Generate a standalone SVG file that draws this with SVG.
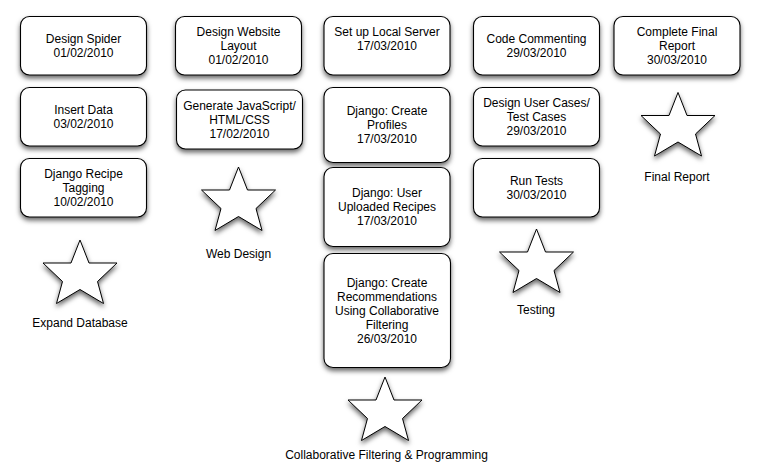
<svg xmlns="http://www.w3.org/2000/svg" xmlns:xlink="http://www.w3.org/1999/xlink" width="760" height="471" viewBox="0 0 760 471">
<style>
.box{fill:#fff;stroke:#000;stroke-width:1.1;filter:url(#sh)}
.star{fill:#fff;stroke:#000;stroke-width:1;stroke-linejoin:miter;filter:url(#sh)}
text{font-family:"Liberation Sans",Arial,sans-serif;font-size:12px;fill:#000;text-anchor:middle}
</style>
<defs>
<filter id="sh" x="-20%" y="-20%" width="140%" height="150%">
<feDropShadow dx="0" dy="3" stdDeviation="2.6" flood-color="#000" flood-opacity="0.6"/>
</filter>
<path id="star" d="M0,0 L9,23 L37,23 L17.5,41.5 L23.5,63.5 L0,49.5 L-23.5,63.5 L-17.5,41.5 L-37,23 L-9,23 Z"/>
</defs>
<rect width="760" height="471" fill="#fff"/>
<g id="connectors"></g>

<g id="design-spider"><rect class="box" x="20.5" y="16.5" width="126" height="58.5" rx="9"/>
<text x="83.5" y="43.3">Design Spider</text><text x="83.5" y="57.3">01/02/2010</text></g>
<g id="insert-data"><rect class="box" x="20.5" y="87.5" width="126" height="58.5" rx="9"/>
<text x="83.5" y="113.8">Insert Data</text><text x="83.5" y="127.8">03/02/2010</text></g>
<g id="django-recipe-tagging"><rect class="box" x="20.5" y="158.5" width="126" height="58.5" rx="9"/>
<text x="83.5" y="177.8">Django Recipe</text><text x="83.5" y="191.8">Tagging</text><text x="83.5" y="205.8">10/02/2010</text></g>

<g id="design-website-layout"><rect class="box" x="175.5" y="16.5" width="126" height="58.5" rx="9"/>
<text x="238.5" y="36">Design Website</text><text x="238.5" y="50">Layout</text><text x="238.5" y="64">01/02/2010</text></g>
<g id="generate-js"><rect class="box" x="176.5" y="90" width="126" height="59" rx="9"/>
<text x="239.5" y="110">Generate JavaScript/</text><text x="239.5" y="124">HTML/CSS</text><text x="239.5" y="138">17/02/2010</text></g>

<g id="local-server"><rect class="box" x="324" y="16.5" width="126" height="58.5" rx="9"/>
<text x="387" y="35.5">Set up Local Server</text><text x="387" y="49.5">17/03/2010</text></g>
<g id="create-profiles"><rect class="box" x="324" y="87.5" width="126" height="75" rx="9"/>
<text x="387" y="114.5">Django: Create</text><text x="387" y="128.5">Profiles</text><text x="387" y="142.5">17/03/2010</text></g>
<g id="uploaded-recipes"><rect class="box" x="324" y="167.5" width="126" height="79" rx="9"/>
<text x="387" y="196.8">Django: User</text><text x="387" y="210.8">Uploaded Recipes</text><text x="387" y="224.8">17/03/2010</text></g>
<g id="recommendations"><rect class="box" x="324" y="253.5" width="126.5" height="114" rx="9"/>
<text x="387" y="286.8">Django: Create</text><text x="387" y="300.8">Recommendations</text><text x="387" y="314.8">Using Collaborative</text><text x="387" y="328.8">Filtering</text><text x="387" y="342.8">26/03/2010</text></g>

<g id="code-commenting"><rect class="box" x="473.5" y="16.5" width="126" height="58.5" rx="9"/>
<text x="536.5" y="43.3">Code Commenting</text><text x="536.5" y="57.3">29/03/2010</text></g>
<g id="design-user-cases"><rect class="box" x="473.5" y="87.5" width="126" height="58.5" rx="9"/>
<text x="536.5" y="106.5">Design User Cases/</text><text x="536.5" y="120.5">Test Cases</text><text x="536.5" y="134.5">29/03/2010</text></g>
<g id="run-tests"><rect class="box" x="473.5" y="158.5" width="126" height="58.5" rx="9"/>
<text x="536.5" y="184.6">Run Tests</text><text x="536.5" y="198.6">30/03/2010</text></g>

<g id="final-report-task"><rect class="box" x="614" y="16.5" width="126" height="58.5" rx="9"/>
<text x="677" y="36">Complete Final</text><text x="677" y="50">Report</text><text x="677" y="64">30/03/2010</text></g>

<g id="milestone-expand-database"><use href="#star" xlink:href="#star" class="star" x="80" y="240"/>
<text x="80" y="326.5">Expand Database</text></g>
<g id="milestone-web-design"><use href="#star" xlink:href="#star" class="star" x="238.5" y="167"/>
<text x="238.5" y="258">Web Design</text></g>
<g id="milestone-collab"><use href="#star" xlink:href="#star" class="star" x="385" y="377"/>
<text x="386.5" y="458.7">Collaborative Filtering &amp; Programming</text></g>
<g id="milestone-testing"><use href="#star" xlink:href="#star" class="star" x="536.5" y="229"/>
<text x="536" y="314">Testing</text></g>
<g id="milestone-final-report"><use href="#star" xlink:href="#star" class="star" x="678" y="92.5"/>
<text x="677" y="181">Final Report</text></g>
</svg>
